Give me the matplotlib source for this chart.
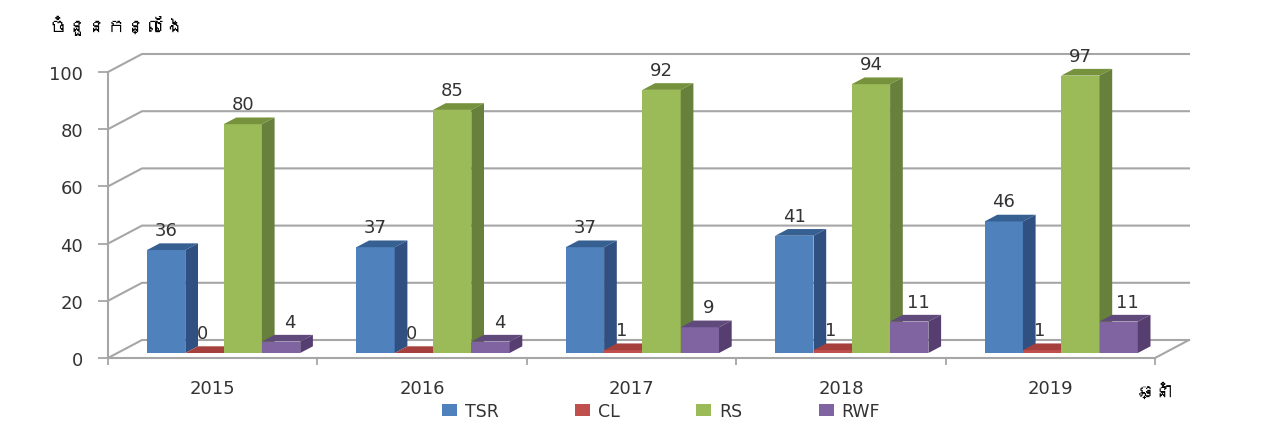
import matplotlib
matplotlib.use("Agg")
import matplotlib.pyplot as plt
from matplotlib import font_manager
from matplotlib.ft2font import FT2Font
from matplotlib.patches import Polygon

years = ["2015", "2016", "2017", "2018", "2019"]
series_names = ["TSR", "CL", "RS", "RWF"]
tsr = [36, 37, 37, 41, 46]
cl = [0, 0, 1, 1, 1]
rs = [80, 85, 92, 94, 97]
rwf = [4, 4, 9, 11, 11]
y_ticks = [0, 20, 40, 60, 80, 100]

series_values = [tsr, cl, rs, rwf]
front_colors = ["#4F81BD", "#C0504D", "#9BBB59", "#8064A2"]
top_colors = ["#376092", "#A5403D", "#76923C", "#604A7B"]
side_colors = ["#2F5080", "#8E3836", "#67803B", "#563F70"]


def khmer_families():
    # look for any installed font that has Khmer letters
    found = []
    for f in font_manager.fontManager.ttflist:
        try:
            if 0x1785 in FT2Font(f.fname).get_charmap():
                found.append(f.name)
        except Exception:
            pass
    return found + ["DejaVu Sans"]


W, H = 1261, 439
fig = plt.figure(figsize=(W / 100, H / 100), dpi=100)
ax = fig.add_axes([108 / W, (H - 359) / H, 1047 / W, 286 / H])
ax.set_xlim(0, 5)
ax.set_ylim(0, 100)

# pixels -> data units, for the fake 3d depth
ux = 5 / 1047
uy = 100 / 286
wall_dx = 34 * ux
wall_dy = 18 * uy
bar_dx = 12.7 * ux
bar_dy = 6.7 * uy
base = 5 * uy
bar_w = 38.3 * ux
first = 39 * ux
grey = "#A6A6A6"

# walls and gridlines
for t in y_ticks:
    ax.plot([0, wall_dx, 5 + wall_dx], [t, t + wall_dy, t + wall_dy],
            color=grey, lw=1.5, clip_on=False, zorder=1)
ax.plot([5, 5 + wall_dx], [0, wall_dy], color=grey, lw=1.5, clip_on=False, zorder=1)

legend_handles = []
for s, values in enumerate(series_values):
    xs = [i + first + s * bar_w for i in range(len(years))]
    bars = ax.bar(xs, values, width=bar_w, bottom=base, align="edge",
                  color=front_colors[s], label=series_names[s], clip_on=False,
                  zorder=3 + s * 0.1)
    legend_handles.append(bars)
    for x, v in zip(xs, values):
        top = v + base
        ax.add_patch(Polygon([(x, top), (x + bar_w, top), (x + bar_w + bar_dx, top + bar_dy),
                              (x + bar_dx, top + bar_dy)], color=top_colors[s], lw=0,
                             clip_on=False, zorder=3 + s * 0.1))
        ax.add_patch(Polygon([(x + bar_w, base), (x + bar_w + bar_dx, base + bar_dy),
                              (x + bar_w + bar_dx, top + bar_dy), (x + bar_w, top)],
                             color=side_colors[s], lw=0, clip_on=False, zorder=3 + s * 0.1))
        # RWF labels sit a bit to the right, CL labels are cut by the blue bar
        shift = 9 if s == 3 else (-2 if s == 1 else 0)
        z = 2 if s == 1 else 5
        ax.annotate(str(v), (x + bar_w / 2, top), xytext=(shift, 20), textcoords="offset pixels",
                    ha="center", va="center", fontsize=13, color="#333333",
                    annotation_clip=False, zorder=z)

for side in ["top", "right"]:
    ax.spines[side].set_visible(False)
for side in ["left", "bottom"]:
    ax.spines[side].set_color(grey)
    ax.spines[side].set_linewidth(1.5)
    ax.spines[side].set_zorder(2)

ax.set_yticks(y_ticks)
ax.tick_params(axis="y", length=7, width=1.3, color=grey, pad=11, labelsize=13, labelcolor="#333333")
ax.set_xticks(range(6))
ax.set_xticklabels([])
ax.tick_params(axis="x", which="major", length=5, width=1.3, color=grey)
ax.set_xticks([i + 0.5 for i in range(5)], minor=True)
ax.set_xticklabels(years, minor=True)
ax.tick_params(axis="x", which="minor", length=0, pad=15, labelsize=13, labelcolor="#333333")

leg = ax.legend(handles=legend_handles, ncol=4, frameon=False, fontsize=12.5,
                loc="center", bbox_to_anchor=(661 / W, 1 - 412 / H),
                bbox_transform=fig.transFigure, handlelength=0.87, handleheight=0.63,
                handletextpad=0.45, columnspacing=4.4, labelcolor="#333333")

# Khmer axis titles
families = khmer_families()
fig.text(48 / W, 1 - 26 / H, "ចំនួនកន្លែង", fontsize=14, color="black", va="center", ha="left",
         family=families)
fig.text(1155 / W, 1 - 391 / H, "ឆ្នាំ", fontsize=13, color="black", va="center", ha="center",
         family=families)

fig.savefig("out.png", dpi=100, facecolor="white")
